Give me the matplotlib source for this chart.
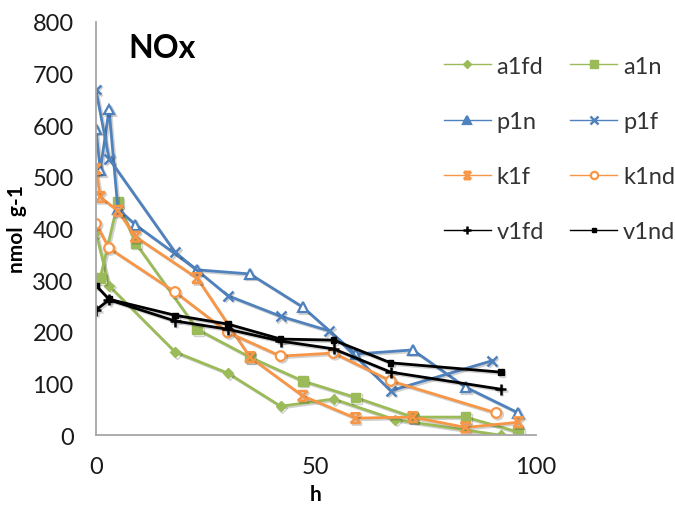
import matplotlib
matplotlib.use("Agg")
import matplotlib.pyplot as plt
import matplotlib.patheffects as pe
from matplotlib.lines import Line2D
from matplotlib.path import Path

plt.rcParams["font.family"] = ["Lato", "DejaVu Sans"]

GREEN = "#9BBB59"
BLUE = "#4F81BD"
ORANGE = "#F79646"
BLACK = "#000000"

# sampling times (h) and NOx concentrations (nmol g-1)
a1fd_h = [0, 3, 18, 30, 42, 54, 68, 92]
a1fd_v = [393, 289, 161, 120, 56, 70, 30, 0]

a1n_h = [1, 5, 9, 23, 35, 47, 59, 72, 84, 96]
a1n_v = [304, 451, 372, 205, 151, 105, 73, 35, 35, 6]

p1n_h = [0, 1, 3, 5, 9, 23, 35, 47, 59, 72, 84, 96]
p1n_v = [593, 513, 630, 438, 407, 320, 312, 248, 157, 165, 93, 43]

p1f_h = [0, 3, 18, 30, 42, 53, 67, 90]
p1f_v = [669, 535, 354, 270, 230, 202, 86, 144]

k1f_h = [0, 1, 5, 9, 23, 35, 47, 59, 72, 84, 96]
k1f_v = [515, 461, 434, 384, 304, 151, 76, 33, 35, 15, 25]

k1nd_h = [0, 3, 18, 30, 42, 54, 67, 91]
k1nd_v = [409, 362, 277, 199, 153, 159, 105, 43]

v1fd_h = [0, 3, 18, 30, 42, 54, 67, 92]
v1fd_v = [242, 262, 221, 205, 182, 167, 122, 89]

v1nd_h = [0, 3, 18, 30, 42, 54, 67, 92]
v1nd_v = [290, 263, 232, 215, 186, 184, 140, 122]

# hourglass-shaped marker (x with top and bottom bars)
bowtie = Path(
    [(-1, -1), (1, 1), (-1, 1), (1, -1), (-1, 1), (1, 1), (-1, -1), (1, -1)],
    [Path.MOVETO, Path.LINETO] * 4,
)

series = [
    ("a1fd", a1fd_h, a1fd_v, GREEN, dict(marker="D", ms=5, mfc=GREEN, mec=GREEN)),
    ("a1n", a1n_h, a1n_v, GREEN, dict(marker="s", ms=7, mfc=GREEN, mec=GREEN)),
    ("p1n", p1n_h, p1n_v, BLUE, dict(marker="^", ms=7, mfc="white", mec=BLUE, mew=1.6)),
    ("p1f", p1f_h, p1f_v, BLUE, dict(marker="x", ms=7, mec=BLUE, mew=1.8)),
    ("k1f", k1f_h, k1f_v, ORANGE, dict(marker=bowtie, ms=7, mfc="none", mec=ORANGE, mew=1.8)),
    ("k1nd", k1nd_h, k1nd_v, ORANGE, dict(marker="o", ms=7, mfc="white", mec=ORANGE, mew=1.6)),
    ("v1fd", v1fd_h, v1fd_v, BLACK, dict(marker="+", ms=8, mec=BLACK, mew=1.8)),
    ("v1nd", v1nd_h, v1nd_v, BLACK, dict(marker="s", ms=4, mfc=BLACK, mec=BLACK)),
]

fig = plt.figure(figsize=(6.75, 5.06), dpi=100)
ax = fig.add_axes([0.142, 0.138, 0.652, 0.817])

shadow = [pe.SimpleLineShadow(offset=(1.2, -1.2), alpha=0.18), pe.Normal()]
handles = {}
for name, h, v, color, mk in series:
    ax.plot(h, v, color=color, lw=2, path_effects=shadow, **mk)
    leg_mk = dict(mk)
    leg_mk["ms"] = mk["ms"] * 0.75
    if name == "p1n":
        leg_mk["mfc"] = color
    handles[name] = Line2D([], [], color=color, lw=1, **leg_mk)

ax.set_xlim(0, 100)
ax.set_ylim(0, 800)
ax.set_xticks([0, 50, 100])
ax.set_yticks(range(0, 801, 100))
ax.tick_params(length=0, labelsize=17, colors="#1a1a1a")
ax.tick_params(axis="y", pad=16)
ax.tick_params(axis="x", pad=15)
for side in ("top", "right"):
    ax.spines[side].set_visible(False)
for side in ("left", "bottom"):
    ax.spines[side].set_color("#A6A6A6")
    ax.spines[side].set_linewidth(1.3)

ax.set_xlabel("h", fontsize=15, fontweight="bold", labelpad=5)
ax.set_ylabel("nmol  g-1", fontsize=15, fontweight="bold", labelpad=4)
ax.text(7.5, 732, "NOx", fontsize=23, fontweight="bold")

# two columns filled row by row
order = ["a1fd", "p1n", "k1f", "v1fd", "a1n", "p1f", "k1nd", "v1nd"]
ax.legend(
    [handles[n] for n in order], order,
    ncol=2, frameon=False, fontsize=17, labelcolor="#333333",
    loc="upper left", bbox_to_anchor=(0.79, 0.918),
    handlelength=2.0, handletextpad=0.25, columnspacing=1.1,
    labelspacing=1.45, borderaxespad=0, borderpad=0,
)

fig.savefig("out.png", dpi=100)
